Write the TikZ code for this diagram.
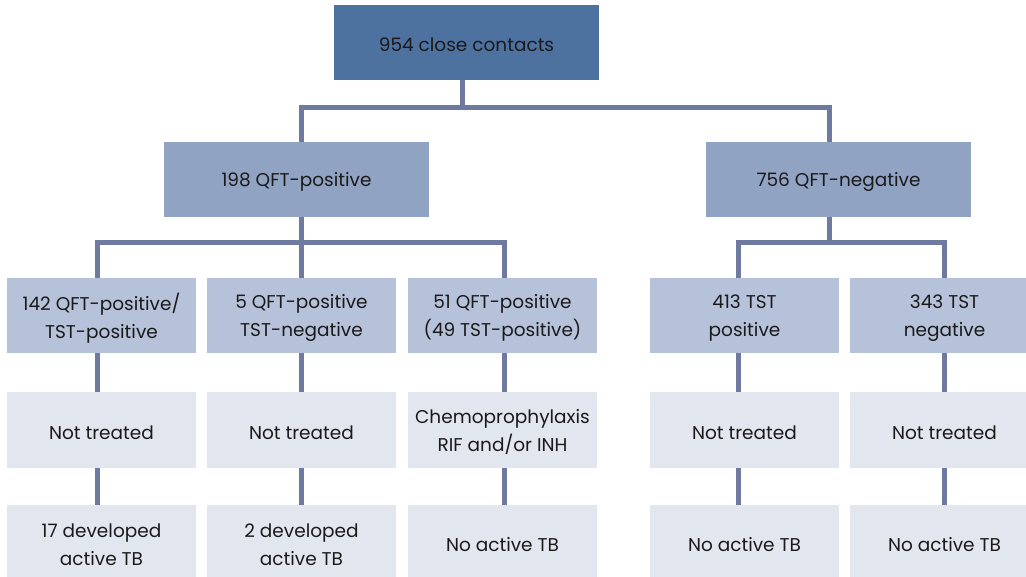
\documentclass[tikz,border=0pt]{standalone}
\usepackage{fontspec}
\setmainfont{Poppins}
\definecolor{cTop}{HTML}{4E72A0}
\definecolor{cTwo}{HTML}{91A3C3}
\definecolor{cThree}{HTML}{B6C2DA}
\definecolor{cFour}{HTML}{E2E6EF}
\definecolor{cLine}{HTML}{6E7AA0}
\definecolor{cText}{HTML}{1A1A1A}
\tikzset{
  txt/.style={inner sep=0pt, align=center, text=cText, yshift=-2.5pt,
    font=\fontsize{18.5}{28}\selectfont},
  box/.style={rectangle, inner sep=0pt, minimum height=75pt,
    label={[txt]center:{#1}}},
  wide/.style={box=#1, minimum width=265pt},
  narrow/.style={box=#1, minimum width=189pt},
  conn/.style={draw=cLine, line width=5pt, line join=miter},
}
\begin{document}
\begin{tikzpicture}[x=1pt,y=-1pt]
\useasboundingbox (0,0) rectangle (1026,577);
% level 1
\node[wide={954 close contacts}, fill=cTop] (top) at (466.5,42.5) {};
% level 2
\node[wide={198 QFT-positive}, fill=cTwo] (pos) at (296.5,179.5) {};
\node[wide={756 QFT-negative}, fill=cTwo] (neg) at (838.5,179.5) {};
% level 3
\node[narrow={142 QFT-positive/\\TST-positive}, fill=cThree] (a3) at (101.5,315.5) {};
\node[narrow={5 QFT-positive\\TST-negative}, fill=cThree] (b3) at (301.5,315.5) {};
\node[narrow={51 QFT-positive\\(49 TST-positive)}, fill=cThree] (c3) at (502.5,315.5) {};
\node[narrow={413 TST\\positive}, fill=cThree] (d3) at (744.5,315.5) {};
\node[narrow={343 TST\\negative}, fill=cThree] (e3) at (944.5,315.5) {};
% level 4
\node[narrow={Not treated}, fill=cFour] (a4) at (101.5,430) {};
\node[narrow={Not treated}, fill=cFour] (b4) at (301.5,430) {};
\node[narrow={Chemoprophylaxis\\RIF and/or INH}, fill=cFour] (c4) at (502.5,430) {};
\node[narrow={Not treated}, fill=cFour] (d4) at (744.5,430) {};
\node[narrow={Not treated}, fill=cFour] (e4) at (944.5,430) {};
% level 5
\node[narrow={17 developed\\active TB}, fill=cFour] (a5) at (101.5,542.5) {};
\node[narrow={2 developed\\active TB}, fill=cFour] (b5) at (301.5,542.5) {};
\node[narrow={No active TB}, fill=cFour] (c5) at (502.5,542.5) {};
\node[narrow={No active TB}, fill=cFour] (d5) at (744.5,542.5) {};
\node[narrow={No active TB}, fill=cFour] (e5) at (944.5,542.5) {};
% column x positions of connectors
\coordinate (xa) at (97,0);
\coordinate (xb) at (301.5,0);
\coordinate (xc) at (504,0);
\coordinate (xd) at (738.5,0);
\coordinate (xe) at (944.5,0);
\coordinate (xt) at (462.5,0);
\coordinate (xn) at (829,0);
% buses
\coordinate (bus1) at (462.5,107.5);
\coordinate (bus2) at (301.5,242.5);
\coordinate (bus3) at (829,242.5);
% level 1 -> 2
\draw[conn] (top.south -| xt) -- (bus1);
\draw[conn] (pos.north -| xb) -- (bus1 -| xb) -- (bus1 -| xn) -- (neg.north -| xn);
% level 2 -> 3
\draw[conn] (pos.south -| xb) -- (bus2);
\draw[conn] (a3.north -| xa) -- (bus2 -| xa) -- (bus2 -| xc) -- (c3.north -| xc);
\draw[conn] (bus2) -- (b3.north -| xb);
\draw[conn] (neg.south -| xn) -- (bus3);
\draw[conn] (d3.north -| xd) -- (bus3 -| xd) -- (bus3 -| xe) -- (e3.north -| xe);
% level 3 -> 4 -> 5
\foreach \n/\x in {a/xa,b/xb,c/xc,d/xd,e/xe}{
  \draw[conn] (\n3.south -| \x) -- (\n4.north -| \x);
  \draw[conn] (\n4.south -| \x) -- (\n5.north -| \x);
}
\end{tikzpicture}
\end{document}
